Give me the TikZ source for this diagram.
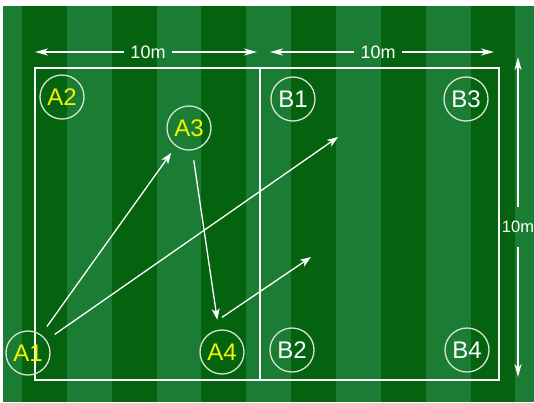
\documentclass[tikz,border=0pt]{standalone}
\usepackage{fontspec}
\setmainfont{Liberation Sans}
\usetikzlibrary{arrows.meta,positioning}
\definecolor{turflight}{HTML}{1A7D33}
\definecolor{turfdark}{HTML}{05630F}
\definecolor{ringgray}{HTML}{D5E2D5}
\definecolor{shirtyellow}{HTML}{F4F400}
\tikzstyle{player} = [circle, draw=ringgray, line width=1.3pt, minimum size=44pt, inner sep=0pt, font=\fontsize{24}{24}\selectfont]
\tikzstyle{pass} = [draw, white, line width=1.3pt, -{Stealth[length=11pt,width=8pt,inset=3pt]}]
\tikzstyle{dim} = [draw, white, line width=1.8pt, -{Stealth[length=13pt,width=7pt,inset=4pt]}]
\tikzstyle{dimlabel} = [text=white, inner xsep=6pt, font=\fontsize{18}{18}\selectfont]

\begin{document}
\begin{tikzpicture}[x=1pt,y=-1pt]
		\useasboundingbox (0,0) rectangle (534,402);
		\clip (0,0) rectangle (534,402);
		% pitch
		\fill[white] (0,0) rectangle (534,402);
		\fill[turflight] (3,6) rectangle (534,402);
		\foreach \i in {0,...,5}
			\fill[turfdark] ({22+89.7*\i},6) rectangle ({66.85+89.7*\i},402);
		\draw[white, line width=2.6pt] (35,68) rectangle (499,380);
		\draw[white, line width=2.6pt] (260,68) -- (260,380);
		% sizes
		\node[dimlabel] (lenA) at (148,52) {10m};
		\node[dimlabel] (lenB) at (378,52) {10m};
		\node[dimlabel, inner ysep=14pt, font=\fontsize{16.5}{16.5}\selectfont] (lenSide) at (518,227) {10m};
		\coordinate (lenAl) at (35,52);
		\coordinate (lenAr) at (257,52);
		\coordinate (lenBl) at (270,52);
		\coordinate (lenBr) at (494,52);
		\coordinate (lenSidet) at (518,57);
		\coordinate (lenSideb) at (518,377);
		\draw[dim] (lenA) -- (lenAl);
		\draw[dim] (lenA) -- (lenAr);
		\draw[dim] (lenB) -- (lenBl);
		\draw[dim] (lenB) -- (lenBr);
		\draw[dim] (lenSide) -- (lenSidet);
		\draw[dim] (lenSide) -- (lenSideb);
		% players
		\node[player, text=shirtyellow] (A1) at (28,353) {A1};
		\node[player, text=shirtyellow] (A2) at (62,97) {A2};
		\node[player, text=shirtyellow] (A3) at (189,128) {A3};
		\node[player, text=shirtyellow] (A4) at (222,352) {A4};
		\node[player, text=white] (B1) at (293,99) {B1};
		\node[player, text=white] (B2) at (292,350) {B2};
		\node[player, text=white] (B3) at (466,99) {B3};
		\node[player, text=white] (B4) at (467,350) {B4};
		% passes
		\coordinate (deepB) at (338,137);
		\coordinate (shortB) at (311,257);
		\draw[pass, shorten <=10pt, shorten >=8pt] (A1) -- (A3);
		\draw[pass, shorten <=10pt] (A1) -- (deepB);
		\draw[pass, shorten <=10pt, shorten >=10pt] (A3) -- (A4);
		\draw[pass] ([yshift=12pt]A4.north) -- (shortB);
	\end{tikzpicture}
\end{document}
